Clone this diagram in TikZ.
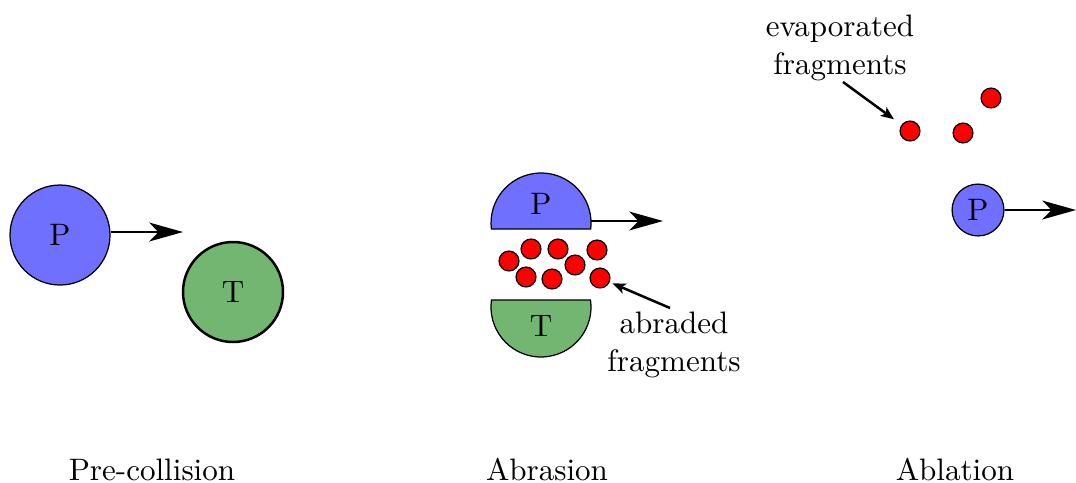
\documentclass[tikz,border=0pt]{standalone}
\usetikzlibrary{arrows.meta}
\definecolor{pblue}{RGB}{112,112,255}
\definecolor{tgreen}{RGB}{114,182,114}
\definecolor{fred}{RGB}{255,0,0}
\begin{document}
\begin{tikzpicture}[x=0.322pt,y=-0.322pt,
  big/.style={circle,draw,line width=0.4pt,minimum size=32.2pt,inner sep=0pt},
  small/.style={circle,draw,line width=0.4pt,fill=pblue,minimum size=16.7pt,inner sep=0pt},
  frag/.style={circle,draw,line width=0.4pt,fill=fred,minimum size=6.4pt,inner sep=0pt},
  half/.style={draw,line width=0.4pt},
  motion/.style={line width=0.7pt,-{Stealth[length=10.9pt,width=6.1pt,inset=3pt]}},
  pointer/.style={line width=0.8pt,-{Stealth[length=4.2pt,width=3.4pt,inset=1pt]}},
  lbl/.style={align=center,inner sep=0pt}]
\useasboundingbox (0,0) rectangle (1076,482);
% Pre-collision
\node[big,fill=pblue] (p1) at (60,235) {P};
\node[big,fill=tgreen,line width=0.8pt] (t1) at (233,292) {T};
\coordinate (p1h) at (183,232);
\draw[motion] (p1.east |- p1h) -- (p1h);
\node[lbl] (l1) at (152,470) {Pre-collision};
% Abrasion
\draw[half,fill=pblue] (491.4,229) arc[start angle=186.9,end angle=-6.9,radius=16.1pt] -- cycle;
\node[inner sep=0pt] (p2) at (541,204) {P};
\coordinate (p2r) at (591,221);
\coordinate (p2h) at (663,221);
\draw[motion] (p2r) -- (p2h);
\draw[half,fill=tgreen] (590.5,300) arc[start angle=8,end angle=-188,radius=16.1pt] -- cycle;
\node[inner sep=0pt] (t2) at (541,326) {T};
\node[frag] (f1) at (509,261) {};
\node[frag] (f2) at (531,249) {};
\node[frag] (f3) at (558,249) {};
\node[frag] (f4) at (597,250) {};
\node[frag] (f5) at (526,277) {};
\node[frag] (f6) at (552,279) {};
\node[frag] (f7) at (575,265) {};
\node[frag] (f8) at (600,278) {};
\node[lbl] (ab) at (674,345) {abraded\\fragments};
\coordinate (abt) at (670,308);
\draw[pointer,shorten >=1pt] (abt) -- (f8);
\node[lbl] (l2) at (547,470) {Abrasion};
% Ablation
\node[small] (p3) at (978,210) {P};
\coordinate (p3h) at (1076,210);
\draw[motion] (p3) -- (p3h);
\node[frag] (e1) at (910,131) {};
\node[frag] (e2) at (963,133) {};
\node[frag] (e3) at (991,98) {};
\node[lbl] (ev) at (840,48) {evaporated\\fragments};
\coordinate (evt) at (843,82);
\draw[pointer,shorten >=3pt] (evt) -- (e1);
\node[lbl] (l3) at (955,470) {Ablation};
\end{tikzpicture}
\end{document}
